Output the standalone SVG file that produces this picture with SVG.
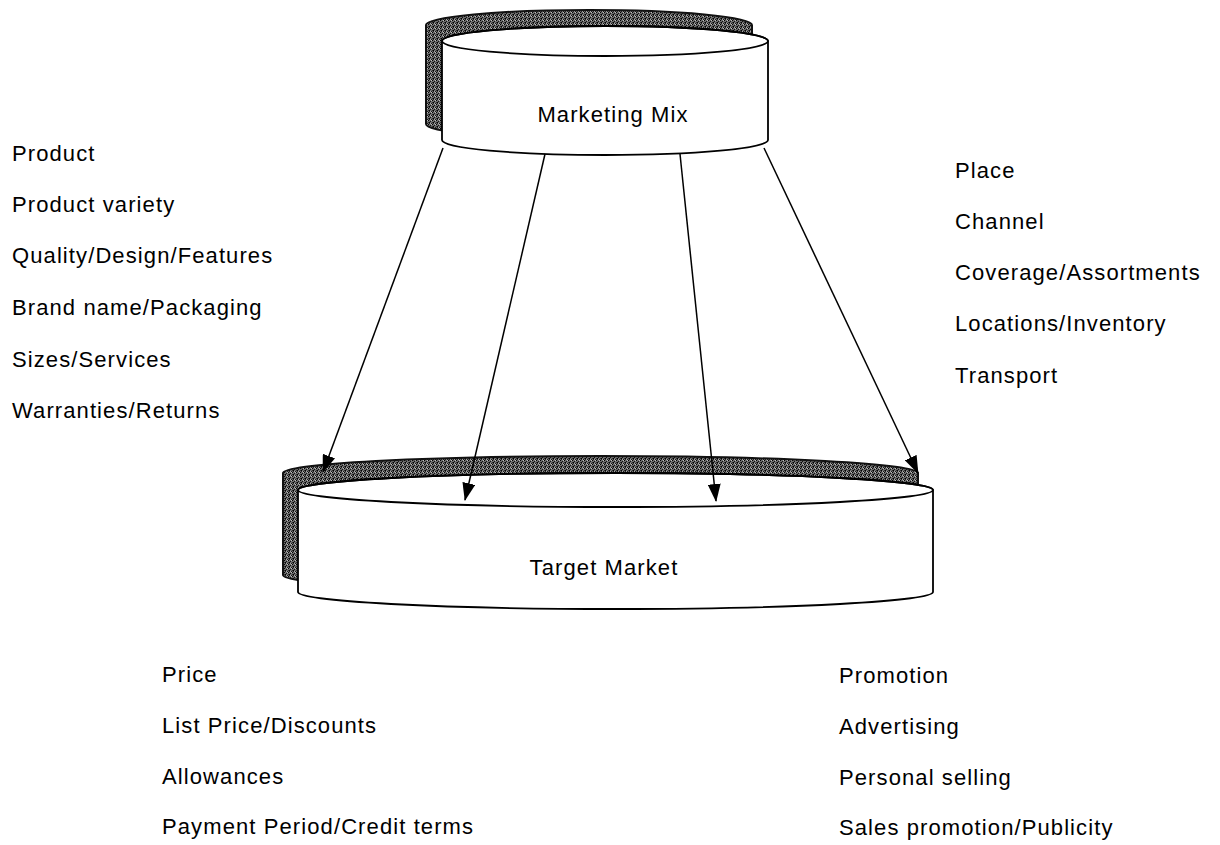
<svg xmlns="http://www.w3.org/2000/svg" width="1220" height="845" viewBox="0 0 1220 845">
<defs>
<marker id="ah" viewBox="0 0 18 13" refX="17" refY="6.5" markerWidth="18" markerHeight="13" markerUnits="userSpaceOnUse" orient="auto">
<path d="M0,0 L18,6.5 L0,13 Z" fill="#000"/>
</marker>
<pattern id="speck" width="4" height="4" patternUnits="userSpaceOnUse">
<rect width="4" height="4" fill="#6e6e6e"/>
<rect x="0" y="0" width="1" height="1" fill="#000"/>
<rect x="2" y="1" width="1" height="1" fill="#111"/>
<rect x="1" y="2" width="1" height="1" fill="#000"/>
<rect x="3" y="3" width="1" height="1" fill="#1a1a1a"/>
<rect x="3" y="0" width="1" height="1" fill="#bdbdbd"/>
<rect x="1" y="3" width="1" height="1" fill="#222"/>
<rect x="0" y="2" width="1" height="1" fill="#333"/>
<rect x="2" y="3" width="1" height="1" fill="#a8a8a8"/>
</pattern>
</defs>
<style>
.t{font-family:"Liberation Sans",Arial,sans-serif;font-size:22px;letter-spacing:1.1px;fill:#000}
.tc{font-family:"Liberation Sans",Arial,sans-serif;font-size:22px;letter-spacing:1.1px;fill:#000;text-anchor:middle}
.sh{fill:url(#speck);stroke:#111;stroke-width:2}
.body{fill:#fff;stroke:#000;stroke-width:1.8}
.rim{fill:none;stroke:#000;stroke-width:1.8}
.arr{stroke:#000;stroke-width:1.5;fill:none;marker-end:url(#ah)}
</style>
<rect width="1220" height="845" fill="#fff"/>
<g id="marketing-mix">
<path class="sh" d="M426,25 A163,15 0 0 1 752,25 V124 A163,15 0 0 1 426,124 Z"/>
<path class="body" d="M442,41 A163,15 0 0 1 768,41 V140 A163,15 0 0 1 442,140 Z"/>
<ellipse class="rim" cx="605" cy="41" rx="163" ry="15"/>
<text class="tc" x="613" y="122">Marketing Mix</text>
</g>
<g id="target-market">
<path class="sh" d="M283,473 A317.5,17 0 0 1 918,473 V575 A317.5,17 0 0 1 283,575 Z"/>
<path class="body" d="M298,490 A317.5,17 0 0 1 933,490 V592 A317.5,17 0 0 1 298,592 Z"/>
<ellipse class="rim" cx="615.5" cy="490" rx="317.5" ry="17"/>
<text class="tc" x="604" y="575">Target Market</text>
</g>
<g id="connectors">
<line class="arr" x1="443" y1="148" x2="323" y2="472"/>
<line class="arr" x1="545" y1="154" x2="465" y2="500"/>
<line class="arr" x1="680" y1="154" x2="716" y2="501"/>
<line class="arr" x1="764" y1="148" x2="918" y2="473"/>
</g>
<g id="product">
<text class="t" x="12" y="161">Product</text>
<text class="t" x="12" y="212">Product variety</text>
<text class="t" x="12" y="263">Quality/Design/Features</text>
<text class="t" x="12" y="315">Brand name/Packaging</text>
<text class="t" x="12" y="367">Sizes/Services</text>
<text class="t" x="12" y="418">Warranties/Returns</text>
</g>
<g id="place">
<text class="t" x="955" y="178">Place</text>
<text class="t" x="955" y="229">Channel</text>
<text class="t" x="955" y="280">Coverage/Assortments</text>
<text class="t" x="955" y="331">Locations/Inventory</text>
<text class="t" x="955" y="383">Transport</text>
</g>
<g id="price">
<text class="t" x="162" y="682">Price</text>
<text class="t" x="162" y="733">List Price/Discounts</text>
<text class="t" x="162" y="784">Allowances</text>
<text class="t" x="162" y="834">Payment Period/Credit terms</text>
</g>
<g id="promotion">
<text class="t" x="839" y="683">Promotion</text>
<text class="t" x="839" y="734">Advertising</text>
<text class="t" x="839" y="785">Personal selling</text>
<text class="t" x="839" y="835">Sales promotion/Publicity</text>
</g>
</svg>
